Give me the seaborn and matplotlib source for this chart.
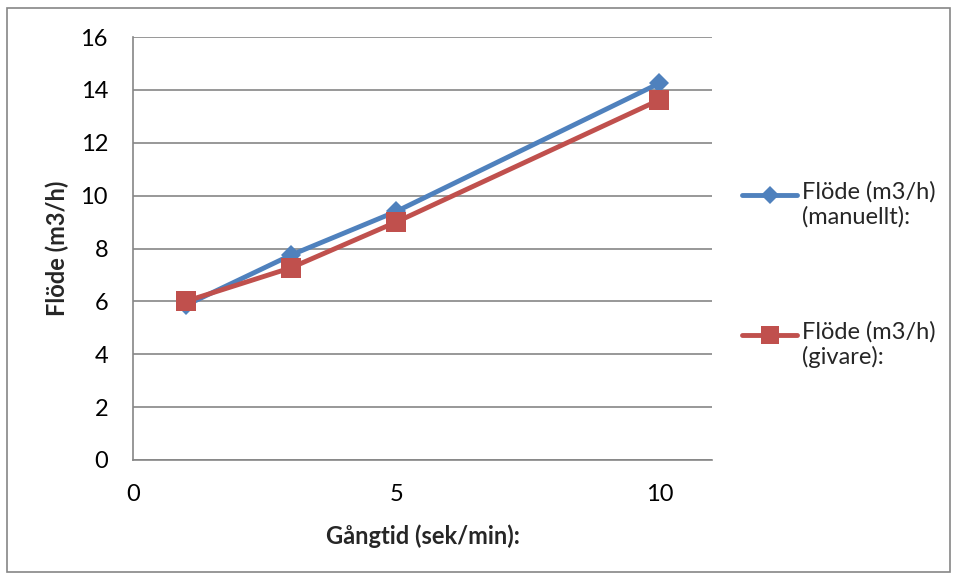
import pandas as pd
import matplotlib.pyplot as plt
import matplotlib.patches as patches
import seaborn as sns

# Data
gangtid = [1, 3, 5, 10]
flode_manuellt = [5.85, 7.75, 9.4, 14.25]
flode_givare = [6.0, 7.27, 9.0, 13.62]

lbl_man = "Flöde (m3/h)\n(manuellt):"
lbl_giv = "Flöde (m3/h)\n(givare):"

df = pd.DataFrame({
    "x": gangtid * 2,
    "y": flode_manuellt + flode_givare,
    "serie": [lbl_man] * len(gangtid) + [lbl_giv] * len(gangtid),
})

sns.set_style("white")
plt.rcParams["font.family"] = ["Lato", "DejaVu Sans"]

fig = plt.figure(figsize=(9.57, 5.79), dpi=100)
ax = fig.add_axes([133 / 957, 1 - 460 / 579, (712 - 133) / 957, (460 - 37) / 579])

sns.lineplot(
    data=df, x="x", y="y", hue="serie", style="serie",
    palette={lbl_man: "#4F81BD", lbl_giv: "#C0504D"},
    markers={lbl_man: "D", lbl_giv: "s"},
    markersize=10, dashes=False, linewidth=3.5,
    markeredgewidth=0, ax=ax, legend=False,
)
# make the square marker bigger than the diamond
for line, ms in zip(ax.get_lines(), [10, 14]):
    line.set_markersize(ms)

ax.set_xlim(0, 11)
ax.set_ylim(0, 16)
ax.set_xticks([0, 5, 10])
ax.set_yticks(range(0, 17, 2))
ax.grid(axis="y", color="#868686", linewidth=1.2)
ax.set_axisbelow(True)
for s in ["top", "right"]:
    ax.spines[s].set_visible(False)
for s in ["left", "bottom"]:
    ax.spines[s].set_color("#868686")
    ax.spines[s].set_linewidth(1.2)
ax.tick_params(axis="both", length=0, labelsize=17, colors="black")
ax.tick_params(axis="y", pad=18)
ax.tick_params(axis="x", pad=17)

ax.set_xlabel("Gångtid (sek/min):", fontsize=17, fontweight="bold", labelpad=14)
ax.set_ylabel("Flöde (m3/h)", fontsize=17, fontweight="bold", labelpad=8)

leg_handles = [
    plt.Line2D([], [], color="#4F81BD", lw=3.5, marker="D", ms=9, mew=0),
    plt.Line2D([], [], color="#C0504D", lw=3.5, marker="s", ms=13, mew=0),
]
fig.legend(leg_handles, [lbl_man, lbl_giv], loc="center left",
           bbox_to_anchor=(742 / 957, 1 - 276 / 579), frameon=False,
           fontsize=17, handlelength=2.35, handletextpad=0.2, borderpad=0,
           borderaxespad=0, labelspacing=3.5, handleheight=3.4)

# outer chart border
fig.patches.append(patches.Rectangle((7 / 957, 7 / 579), 943 / 957, 564 / 579,
                                     transform=fig.transFigure, fill=False,
                                     edgecolor="#868686", linewidth=1.2))

fig.savefig("out.png", dpi=100)
